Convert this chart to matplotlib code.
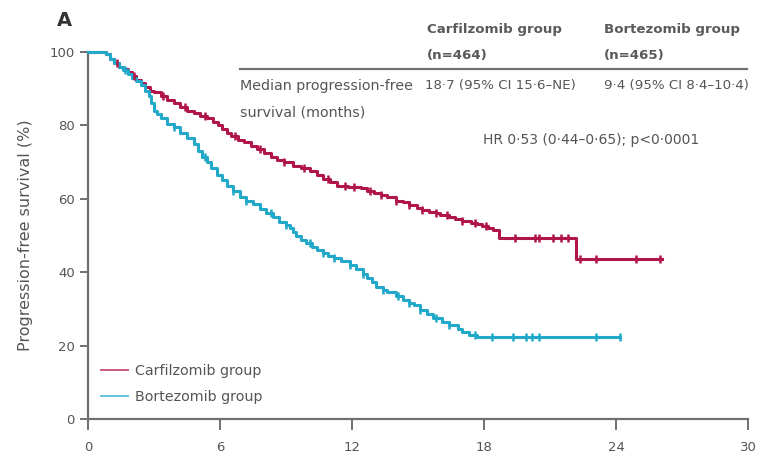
import numpy as np
import matplotlib
matplotlib.use("Agg")
import matplotlib.pyplot as plt

plt.rcParams['font.family'] = ['DejaVu Sans']

# Kaplan-Meier step points (months, % progression-free)
carf_t = [0, 0.8, 1.0, 1.2, 1.4, 1.6, 1.8, 2.0, 2.2, 2.4, 2.6, 2.8, 3.0, 3.3, 3.6,
          3.9, 4.2, 4.5, 4.8, 5.1, 5.4, 5.7, 5.9, 6.1, 6.3, 6.5, 6.8, 7.1, 7.4,
          7.7, 8.0, 8.3, 8.6, 8.9, 9.3, 9.7, 10.1, 10.4, 10.7, 11.0, 11.3, 11.8,
          12.4, 12.7, 13.0, 13.3, 13.6, 14.0, 14.3, 14.6, 14.95, 15.2, 15.5,
          15.8, 16.0, 16.4, 16.7, 17.0, 17.4, 17.7, 17.9, 18.2, 18.4, 18.7, 22.2]
carf_s = [100, 99.5, 98, 97, 96, 95.5, 94.5, 93.5, 92.5, 91.5, 90.5, 89.5, 89, 88,
          87, 86, 85, 84, 83.5, 82.5, 82, 81, 80, 79, 78, 77, 76, 75.5, 74.5,
          73.5, 72.5, 71.5, 70.5, 70, 69, 68.5, 67.5, 66.5, 65.5, 64.5, 63.5,
          63.2, 63, 62, 61.5, 61, 60.5, 59.5, 59, 58.2, 57.5, 57, 56.5, 56, 55.5,
          55, 54.5, 54, 53.5, 53, 52.5, 52, 51.5, 49.2, 43.5]
carf_end = 26.1
carf_cens = [1.3, 2.1, 3.4, 4.4, 5.3, 6.7, 7.8, 8.9, 9.8, 10.9, 11.7, 12.1, 12.8,
             13.3, 14.0, 14.6, 15.2, 15.8, 16.3, 17.0, 17.6, 18.1, 19.4, 20.3,
             20.5, 21.15, 21.5, 21.8, 22.36, 23.1, 24.9, 26.0]

bort_t = [0, 0.8, 1.0, 1.2, 1.4, 1.6, 1.8, 2.0, 2.2, 2.4, 2.6, 2.75, 2.85, 3.0,
          3.15, 3.3, 3.6, 3.9, 4.2, 4.5, 4.8, 5.0, 5.2, 5.4, 5.6, 5.85, 6.1, 6.3,
          6.6, 6.9, 7.2, 7.5, 7.8, 8.1, 8.4, 8.7, 9.0, 9.2, 9.3, 9.45, 9.7, 9.9,
          10.2, 10.4, 10.7, 10.9, 11.2, 11.5, 11.9, 12.2, 12.5, 12.7, 12.9, 13.1,
          13.4, 13.6, 14.0, 14.3, 14.6, 14.8, 15.1, 15.4, 15.7, 16.1, 16.4, 16.8,
          17.0, 17.3, 17.7]
bort_s = [100, 99.5, 98, 97, 96, 95, 94, 93, 92, 91, 89.5, 88, 86, 84, 83, 82,
          80.5, 79.5, 78, 76.5, 75, 73, 71.5, 70, 68.5, 66.5, 65, 63.5, 62, 60.5,
          59.5, 58.5, 57.2, 56, 55, 53.8, 52.8, 52, 51, 49.8, 48.8, 48, 47, 46,
          45.2, 44.5, 43.8, 43, 42, 41, 39.5, 38.5, 37.2, 36, 35.2, 34.5, 33.5,
          32.5, 31.5, 31, 29.8, 28.5, 27.5, 26.5, 25.5, 24.5, 23.8, 23, 22.3]
bort_end = 24.2
bort_cens = [1.7, 3.9, 5.3, 6.6, 7.2, 8.3, 9.0, 10.1, 10.7, 11.2, 11.9, 12.5,
             13.4, 14.1, 14.6, 15.1, 15.8, 16.4, 17.6, 18.35, 19.3, 19.9, 20.2,
             20.5, 23.1, 24.2]

groups = ["Carfilzomib group", "Bortezomib group"]
colors = ["#b0164a", "#22a8c8"]

fig = plt.figure(figsize=(7.6, 4.58), dpi=100)
ax = fig.add_axes([88 / 760, 1 - 419 / 458, 660 / 760, 367 / 458])


def km(ax, t, s, end, cens, color, label):
    tt = list(t) + [end]
    ss = list(s) + [s[-1]]
    ax.step(tt, ss, where="post", color=color, lw=2.2, label=label,
            clip_on=False, zorder=3)
    idx = np.searchsorted(t, cens, side="right") - 1
    cv = np.array(s)[idx]
    ax.plot(cens, cv, linestyle="none", marker="|", ms=6, mew=1.8,
            color=color, clip_on=False, zorder=4)


km(ax, carf_t, carf_s, carf_end, carf_cens, colors[0], groups[0])
km(ax, bort_t, bort_s, bort_end, bort_cens, colors[1], groups[1])

ax.set_xlim(0, 30)
ax.set_ylim(0, 100)
ax.set_xticks([0, 6, 12, 18, 24, 30])
ax.set_yticks([0, 20, 40, 60, 80, 100])
for sp in ["top", "right"]:
    ax.spines[sp].set_visible(False)
for sp in ["left", "bottom"]:
    ax.spines[sp].set_color("#707070")
    ax.spines[sp].set_linewidth(1.6)
ax.tick_params(colors="#707070", width=1.4, length=6, labelsize=9.5,
               labelcolor="#555555")
ax.tick_params(axis="x", length=8, pad=8)
ax.set_ylabel("Progression-free survival (%)", fontsize=11.5, color="#555555",
              labelpad=12)

leg = ax.legend(loc="lower left", bbox_to_anchor=(0.0, 0.005), frameon=False,
                fontsize=10.3, handlelength=1.9, handletextpad=0.5,
                labelspacing=0.85)
for txt in leg.get_texts():
    txt.set_color("#555555")
for ln in leg.get_lines():
    ln.set_linewidth(1.4)
    ln.set_alpha(0.7)

# Summary table above the curves
tc = "#555555"
fs = 9.8
def ftext(x, y, s, **kw):
    fig.text(x / 760, 1 - y / 458, s, fontsize=kw.pop("size", fs),
             color=kw.pop("color", tc), va="center", ha=kw.pop("ha", "left"), **kw)

ftext(57, 21, "A", size=14, weight="bold", color="#333333")
ftext(427, 29, "Carfilzomib group", size=9.6, weight="bold", color="#5a5a5a")
ftext(427, 56, "(n=464)", size=9.6, weight="bold", color="#5a5a5a")
ftext(604, 29, "Bortezomib group", size=9.6, weight="bold", color="#5a5a5a")
ftext(604, 56, "(n=465)", size=9.6, weight="bold", color="#5a5a5a")
fig.add_artist(plt.Line2D([240 / 760, 747 / 760], [1 - 68.5 / 458] * 2,
                          color="#707070", lw=1.6))
ftext(240, 86, "Median progression-free", size=10.3)
ftext(240, 113, "survival (months)", size=10.3)
ftext(425, 86, "18·7 (95% CI 15·6–NE)", size=9.6)
ftext(604, 86, "9·4 (95% CI 8·4–10·4)", size=9.6)
ftext(483, 140, "HR 0·53 (0·44–0·65); p<0·0001", size=10)

fig.savefig("out.png", dpi=100)
